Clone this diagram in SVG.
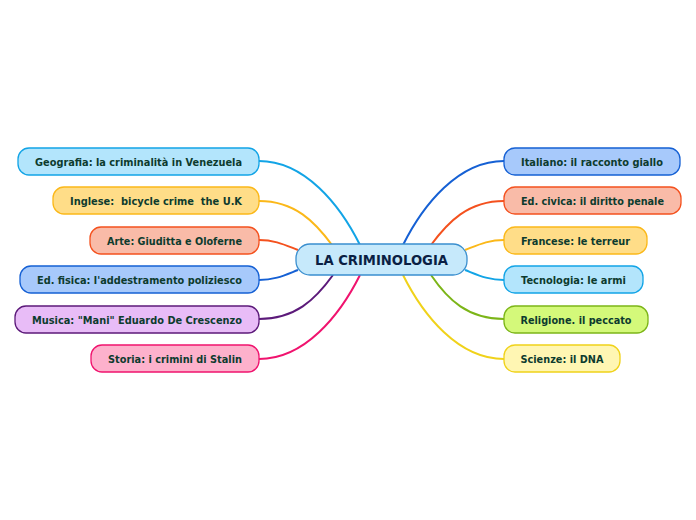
<svg xmlns="http://www.w3.org/2000/svg" width="696" height="520" viewBox="0 0 696 520">
<style>
.n rect{stroke-width:1.3}
.n text{font-family:"DejaVu Sans",Verdana,sans-serif;font-weight:bold;font-size:10.5px;fill:#0d3b2e;text-anchor:middle}
#conn path{fill:none;stroke-width:2}
.cyan rect{fill:#b3e5fc;stroke:#12a4e6}
.amber rect{fill:#ffdd88;stroke:#fbb819}
.coral rect{fill:#f9bba8;stroke:#f4511e}
.blue rect{fill:#a7c9fb;stroke:#1560d4}
.purple rect{fill:#e8bcf7;stroke:#5c1a7a}
.pink rect{fill:#fdb1cc;stroke:#f0136e}
.lime rect{fill:#d4f97a;stroke:#7cb518}
.yellow rect{fill:#fff6b3;stroke:#f0d21a}
</style>
<rect width="696" height="520" fill="#ffffff"/>
<g id="conn">
<path d="M360,245 C340,205 305,161 259,161" stroke="#12a4e6"/>
<path d="M332,245 C315,222 295,201 259,201" stroke="#fbb819"/>
<path d="M298,250 C285,245 275,240 259,240" stroke="#f4511e"/>
<path d="M298,270 C285,275 275,280 259,280" stroke="#1560d4"/>
<path d="M333,275 C315,300 295,319 259,319" stroke="#5c1a7a"/>
<path d="M360,275 C340,315 305,359 259,359" stroke="#f0136e"/>
<path d="M403,245 C423,205 458,161 504,161" stroke="#1560d4"/>
<path d="M431,245 C448,222 468,201 504,201" stroke="#f4511e"/>
<path d="M465,250 C478,245 488,240 504,240" stroke="#fbb819"/>
<path d="M465,270 C478,275 488,280 504,280" stroke="#12a4e6"/>
<path d="M431,275 C448,300 468,319 504,319" stroke="#7cb518"/>
<path d="M403,275 C423,315 458,359 504,359" stroke="#f0d21a"/>
</g>
<g id="center">
<rect x="296" y="244" width="171" height="31" rx="14" fill="#c6e9fb" stroke="#3a8fcf" stroke-width="1.3"/>
<text x="381.5" y="264.5" font-family="DejaVu Sans,Verdana,sans-serif" font-weight="bold" font-size="13.5" fill="#0a1f44" text-anchor="middle" textLength="133" lengthAdjust="spacingAndGlyphs">LA CRIMINOLOGIA</text>
</g>
<g id="geografia" class="n cyan"><rect x="18" y="148" width="241" height="27" rx="11"/><text x="138.5" y="165.5" textLength="207" lengthAdjust="spacingAndGlyphs">Geografia: la criminalità in Venezuela</text></g>
<g id="inglese" class="n amber"><rect x="53" y="187" width="206" height="27" rx="11"/><text x="156" y="205" textLength="172" lengthAdjust="spacingAndGlyphs" xml:space="preserve">Inglese:  bicycle crime  the U.K</text></g>
<g id="arte" class="n coral"><rect x="90" y="227" width="169" height="27" rx="11"/><text x="174.5" y="244.5" textLength="135" lengthAdjust="spacingAndGlyphs">Arte: Giuditta e Oloferne</text></g>
<g id="edfisica" class="n blue"><rect x="20" y="266" width="239" height="27" rx="11"/><text x="139.5" y="284" textLength="205" lengthAdjust="spacingAndGlyphs">Ed. fisica: l'addestramento poliziesco</text></g>
<g id="musica" class="n purple"><rect x="15" y="306" width="244" height="27" rx="11"/><text x="137" y="323.5" textLength="210" lengthAdjust="spacingAndGlyphs">Musica: "Mani" Eduardo De Crescenzo</text></g>
<g id="storia" class="n pink"><rect x="91" y="345" width="168" height="27" rx="11"/><text x="175" y="363" textLength="134" lengthAdjust="spacingAndGlyphs">Storia: i crimini di Stalin</text></g>
<g id="italiano" class="n blue"><rect x="504" y="148" width="176" height="27" rx="11"/><text x="592" y="165.5" textLength="142" lengthAdjust="spacingAndGlyphs">Italiano: il racconto giallo</text></g>
<g id="edcivica" class="n coral"><rect x="504" y="187" width="177" height="27" rx="11"/><text x="592.5" y="205" textLength="143" lengthAdjust="spacingAndGlyphs">Ed. civica: il diritto penale</text></g>
<g id="francese" class="n amber"><rect x="504" y="227" width="143" height="27" rx="11"/><text x="575.5" y="244.5" textLength="109" lengthAdjust="spacingAndGlyphs">Francese: le terreur</text></g>
<g id="tecnologia" class="n cyan"><rect x="504" y="266" width="139" height="27" rx="11"/><text x="573.5" y="284" textLength="105" lengthAdjust="spacingAndGlyphs">Tecnologia: le armi</text></g>
<g id="religione" class="n lime"><rect x="504" y="306" width="144" height="27" rx="11"/><text x="576" y="323.5" textLength="111" lengthAdjust="spacingAndGlyphs">Religione. il peccato</text></g>
<g id="scienze" class="n yellow"><rect x="504" y="345" width="116" height="27" rx="11"/><text x="562" y="363" textLength="83" lengthAdjust="spacingAndGlyphs">Scienze: il DNA</text></g>
</svg>
